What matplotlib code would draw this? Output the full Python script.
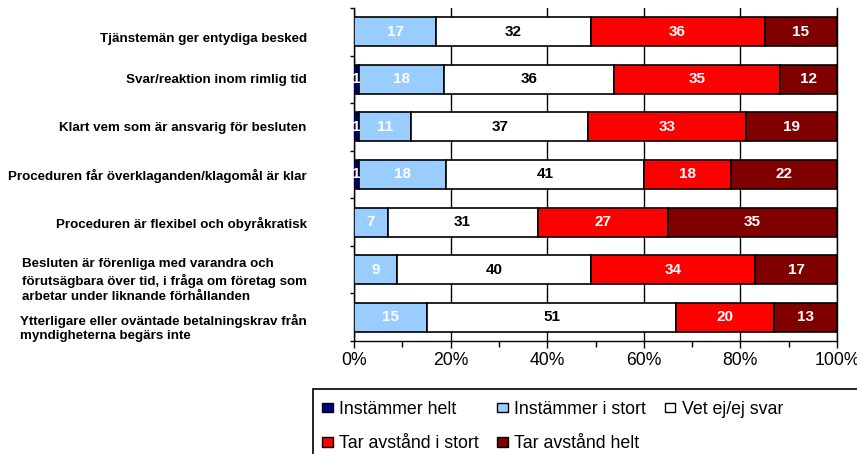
import numpy as np
import matplotlib
matplotlib.use("Agg")
import matplotlib.pyplot as plt
from matplotlib.patches import Rectangle, Patch
from matplotlib.transforms import ScaledTranslation
from matplotlib.ticker import FixedLocator, FuncFormatter

plt.rcParams['font.family'] = ['Liberation Sans', 'DejaVu Sans']

categories = [
    "Tjänstemän ger entydiga besked",
    "Svar/reaktion inom rimlig tid",
    "Klart vem som är ansvarig för besluten",
    "Proceduren får överklaganden/klagomål är klar",
    "Proceduren är flexibel och obyråkratisk",
    "Besluten är förenliga med varandra och\nförutsägbara över tid, i fråga om företag som\narbetar under liknande förhållanden",
    "Ytterligare eller oväntade betalningskrav från\nmyndigheterna begärs inte",
]
series_names = ["Instämmer helt", "Instämmer i stort", "Vet ej/ej svar",
                "Tar avstånd i stort", "Tar avstånd helt"]
instammer_helt = [0, 1, 1, 1, 0, 0, 0]
instammer_i_stort = [17, 18, 11, 18, 7, 9, 15]
vet_ej = [32, 36, 37, 41, 31, 40, 51]
tar_avstand_i_stort = [36, 35, 33, 18, 27, 34, 20]
tar_avstand_helt = [15, 12, 19, 22, 35, 17, 13]
x_ticks = [0, 20, 40, 60, 80, 100]

series = [instammer_helt, instammer_i_stort, vet_ej, tar_avstand_i_stort, tar_avstand_helt]
colors = ["#000080", "#99CCFF", "#FFFFFF", "#FF0000", "#800000"]
text_colors = ["white", "white", "black", "white", "white"]

vals = np.array(series, dtype=float)
totals = vals.sum(axis=0)
pct = vals / totals * 100

fig = plt.figure(figsize=(8.57, 4.54), dpi=100)
ax = fig.add_axes([354/857, 1 - 341/454, (837-354)/857, (341-8)/454])

y = np.arange(len(categories))
left = np.zeros(len(categories))
for i in range(len(series)):
    bars = ax.barh(y, pct[i], left=left, height=0.61, color=colors[i],
                   edgecolor="black", linewidth=1.2, zorder=3)
    labels = [str(int(v)) if v > 0 else "" for v in vals[i]]
    ax.bar_label(bars, labels=labels, label_type="center", color=text_colors[i],
                 fontsize=11, fontweight="bold", zorder=4)
    left += pct[i]

ax.set_xlim(0, 100)
ax.set_ylim(len(categories) - 0.5, -0.5)

ax.xaxis.set_major_locator(FixedLocator(x_ticks))
ax.xaxis.set_minor_locator(FixedLocator([10, 30, 50, 70, 90]))
ax.xaxis.set_major_formatter(FuncFormatter(lambda v, p: f"{int(v)}%"))
ax.tick_params(axis="x", which="major", length=5, width=1, labelsize=12.7, pad=3)
ax.tick_params(axis="x", which="minor", length=4, width=1)
ax.grid(axis="x", which="major", color="black", linewidth=1, zorder=0)

ax.set_yticks(y)
ax.set_yticklabels(categories, fontsize=9.6, fontweight="bold", multialignment="left",
                   linespacing=1.3)
ax.yaxis.set_minor_locator(FixedLocator(np.arange(len(categories) + 1) - 0.5))
ax.tick_params(axis="y", which="major", length=0, pad=34)
ax.tick_params(axis="y", which="minor", length=3, width=1)

label_shift_px = [6, -1, 0, 0, 0, 8, 8]
for lab, dy in zip(ax.get_yticklabels(), label_shift_px):
    lab.set_transform(lab.get_transform() + ScaledTranslation(0, -dy / 100, fig.dpi_scale_trans))

ax.spines["top"].set_visible(False)
for s in ["left", "bottom", "right"]:
    ax.spines[s].set_linewidth(1)
    ax.spines[s].set_color("black")

handles = [Patch(facecolor=c, edgecolor="black", linewidth=1) for c in colors]
order = [0, 3, 1, 4, 2]
leg = fig.legend([handles[i] for i in order], [series_names[i] for i in order],
                 ncol=3, loc="upper left", bbox_to_anchor=(322/857, 1 - 401/454),
                 frameon=False, fontsize=12.8, handlelength=0.6, handleheight=0.45,
                 handletextpad=0.35, columnspacing=1.05, labelspacing=0.98,
                 borderpad=0, borderaxespad=0)

fig.patches.append(Rectangle((313/857, -0.1), 0.7, (1 - 389/454) + 0.1,
                             transform=fig.transFigure, fill=False,
                             edgecolor="black", linewidth=1.2))

fig.savefig("out.png", dpi=100)
